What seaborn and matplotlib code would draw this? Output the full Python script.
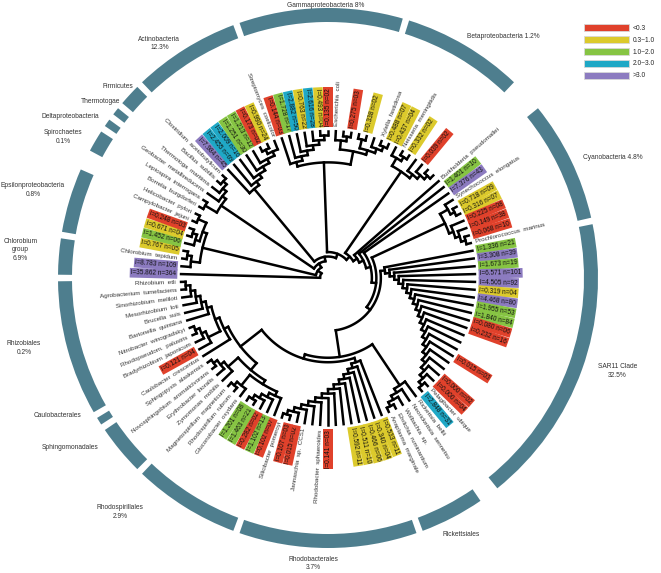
import numpy as np
import pandas as pd
import matplotlib
matplotlib.use("Agg")
import matplotlib.pyplot as plt
import seaborn as sns
from matplotlib.patches import Wedge, Patch

# legend bins for the l value of each environmental leaf
bin_edges = [0.3, 1.0, 2.0, 3.0]
bin_labels = ["<0.3", "0.3~1.0", "1.0~2.0", "2.0~3.0", ">3.0"]
bin_colors = ["#e0412b", "#dcca2c", "#86c443", "#1fa8c6", "#8c7bc0"]

# tree topology (custom newick, "_" = unlabelled leaf)
chlor_eps = ("((l=8.783 n=109,(Chlorobium tepidum,l=0.767 n=05)),"
             "((l=1.452 n=06,(l=0.671 n=04,l=0.248 n=03)),(Campylobacter jejuni,Helicobacter pylori)))")
other = ("((Borrelia burgdorferi,Leptospira interrogans),"
         "(Geobacter metallireducens,(Thermotoga maritima,(Bacillus subtilis,Clostridium acetobutylicum))))")
actino = ("(l=7.984 n=45,(l=2.455 n=69,(l=2.009 n=16,(l=1.251 n=30,(l=1.213 n=12,"
          "((l=0.173 n=02,l=0.990 n=24),Streptomyces coelicolor))))))")
gamma = ("((l=0.144 n=03,(l=1.728 n=17,(l=2.882 n=50,(l=0.763 n=22,(l=2.616 n=28,(l=0.493 n=04,l=0.135 n=02)))))),"
         "((Escherichia coli,(_,l=0.275 n=03)),((_,l=0.338 n=02),(_,(Xylella fastidiosa,l=0.488 n=07)))))")
beta = "((l=0.437 n=04,(Neisseria meningitidis,l=0.332 n=02)),(_,(l=0.039 n=02,(_,_))))"
cyano = ("((Synechococcus elongatus,(l=0.718 n=09,l=0.316 n=07)),"
         "(l=0.225 n=08,(l=0.149 n=38,(l=0.068 n=10,Prochlorococcus marinus))))")
sar11 = ("(l=1.336 n=21,(l=3.308 n=39,(l=1.673 n=19,(l=6.571 n=101,(l=4.505 n=92,(l=0.319 n=04,"
         "(l=4.468 n=80,(l=1.955 n=53,(l=1.840 n=84,(l=0.080 n=06,(l=0.232 n=16,(_,(_,(_,(l=0.015 n=03,"
         "(_,(_,(l=0.000 n=02,(l=0.000 n=04,(Pelagibacter ubique,l=2.848 n=31))))))))))))))))))))")
rick = "(Rickettsia bellii,(Neorickettsia sennetsu,(Wolbachia sp.,(Ehrlichia ruminantium,Anaplasma marginale))))"
rhodob = ("(l=0.533 n=11,(l=0.340 n=04,(l=0.466 n=06,(l=0.511 n=10,(l=0.592 n=11,(_,(_,(l=0.141 n=03,"
          "(Rhodobacter sphaeroides,(_,(Jannaschia sp. CCS1,(l=0.015 n=02,(l=0.107 n=03,Silicibacter pomeroyi)))))))))))))")
rhodosp = ("((l=0.102 n=07,(l=1.102 n=13,(l=0.282 n=02,(l=1.463 n=21,l=1.201 n=08)))),"
           "(Gluconobacter oxydans,(Rhodospirillum rubrum,Magnetospirillum magneticum)))")
sphingo = "(Zymomonas mobilis,(Erythrobacter litoralis,(Novosphingobium aromaticivorans,Sphingopyxis alaskensis)))"
rhizo = ("((l=0.121 n=04,(Bradyrhizobium japonicum,(Rhodopseudom. palustris,Nitrobacter winogradskyi))),"
         "(Bartonella quintana,(Brucella suis,(Mesorhizobium loti,(Sinorhizobium meliloti,"
         "(Agrobacterium tumefaciens,Rhizobium etli))))))")
alpha = f"({sar11},({rick},({rhodob},(({rhodosp},{sphingo}),(Caulobacter crescentus,{rhizo})))))"
newick = (f"(l=35.862 n=364,({chlor_eps},({other},({actino},({gamma},({beta},"
          f"(Burkholderia pseudomallei,(l=1.401 n=10,(l=7.376 n=43,({cyano},{alpha}))))))))))")

# outer ring groups: leaf index ranges
group_names = ["Chlorobium\ngroup\n6.9%", "Epsilonproteobacteria\n0.8%", "Spirochaetes\n0.1%",
               "Deltaproteobacteria", "Thermotogae", "Firmicutes", "Actinobacteria\n12.3%",
               "Gammaproteobacteria 8%", "Betaproteobacteria 1.2%", "Cyanobacteria 4.8%",
               "SAR11 Clade\n32.5%", "Rickettsiales", "Rhodobacterales\n3.7%", "Rhodospirillales\n2.9%",
               "Sphingomonadales", "Caulobacterales", "Rhizobiales\n0.2%"]
group_first = [0, 3, 9, 11, 12, 13, 15, 23, 35, 46, 55, 77, 82, 95, 103, 107, 108]
group_last = [2, 7, 10, 11, 12, 14, 22, 34, 43, 54, 75, 81, 94, 102, 106, 107, 117]


def parse(s):
    pos = 0

    def node():
        nonlocal pos
        if s[pos] == "(":
            pos += 1
            kids = [node()]
            while s[pos] == ",":
                pos += 1
                kids.append(node())
            pos += 1
            return kids
        j = pos
        while s[j] not in ",()":
            j += 1
        name = s[pos:j].strip()
        pos = j
        return name
    return node()


tree = parse(newick)

leaves = []


def collect(n):
    if isinstance(n, str):
        leaves.append(n)
    else:
        for c in n:
            collect(c)


collect(tree)
N = len(leaves)
leaf_ang = 180 - (np.arange(N) + 0.5) * 360 / N

leaf_r = 147
root_r = 8


def height(n):
    return 0 if isinstance(n, str) else 1 + max(height(c) for c in n)


H = height(tree)
step = (leaf_r - root_r) / H

# layout + segments
rows = []
seg_id = [0]
counter = [0]


def add_line(xs, ys):
    for x, y in zip(xs, ys):
        rows.append((x, y, seg_id[0]))
    seg_id[0] += 1


def polar(r, a):
    return r * np.cos(np.radians(a)), r * np.sin(np.radians(a))


def layout(n):
    if isinstance(n, str):
        i = counter[0]
        counter[0] += 1
        return leaf_ang[i], leaf_r
    info = [layout(c) for c in n]
    r = leaf_r - step * height(n)
    a0, a1 = info[0][0], info[-1][0]
    aa = np.linspace(a0, a1, max(2, int(abs(a1 - a0)) + 2))
    add_line(*polar(r, aa))
    for a, rc in info:
        add_line(*polar(np.array([r, rc]), np.array([a, a])))
    return (a0 + a1) / 2, r


layout(tree)
df = pd.DataFrame(rows, columns=["x", "y", "seg"])

sns.set_theme(style="white")
plt.rcParams["font.family"] = ["Liberation Sans", "DejaVu Sans"]

fig = plt.figure(figsize=(6.61, 5.73), dpi=100)
ax = fig.add_axes([0, 0, 1, 1])

sns.lineplot(data=df, x="x", y="y", units="seg", estimator=None, sort=False,
             color="black", linewidth=1.8, legend=False, ax=ax,
             solid_capstyle="projecting")

# leaf labels
for name, a in zip(leaves, leaf_ang):
    if name == "_":
        continue
    x, y = polar(leaf_r + 5, a)
    if -90 < a <= 90:
        rot, ha = a, "left"
    else:
        rot, ha = (a - 180 if a > 90 else a + 180), "right"
    if name.startswith("l="):
        val = float(name.split()[0][2:])
        col = bin_colors[int(np.searchsorted(bin_edges, val))]
        ax.text(x, y, name, rotation=rot, rotation_mode="anchor", ha=ha, va="center",
                fontsize=4.7, color="#111111",
                bbox=dict(boxstyle="square,pad=0.2", fc=col, ec="none"))
    else:
        ax.text(x, y, name.replace(" ", "  "), rotation=rot, rotation_mode="anchor",
                ha=ha, va="center", fontsize=4.5, color="#333333")

# outer ring
ring_r, ring_w, half, gap = 270, 14, 180 / N, 0.7
label_pos = [(174.8, 309), (163.4, 308), (152, 300), (148, 304), (142.3, 288), (137.7, 284),
             (125.7, 289), (90.4, 273), (54, 298), (23, 309), (-17.8, 304), (-62.6, 289),
             (-93, 286), (-131.6, 313), (-146.7, 308), (-153.1, 303), (-167, 312)]
for name, i0, i1, (la, lr) in zip(group_names, group_first, group_last, label_pos):
    t2 = leaf_ang[i0] + half - gap
    t1 = leaf_ang[i1] - half + gap
    ax.add_patch(Wedge((0, 0), ring_r, t1, t2, width=ring_w, fc="#4e7e8e", ec="none"))
    lx, ly = polar(lr, la)
    ax.text(lx, ly, name, ha="center", va="center", multialignment="center",
            fontsize=4.8, color="#333333", linespacing=1.3)

handles = [Patch(fc=c, ec="#d8d8d8", lw=0.6) for c in bin_colors]
ax.legend(handles, bin_labels, loc="upper left", bbox_to_anchor=(584 / 661, 1 - 24 / 573),
          bbox_transform=fig.transFigure, frameon=False, fontsize=4.8,
          handlelength=6.8, handleheight=1.25, labelspacing=0.62, handletextpad=0.5,
          borderpad=0, borderaxespad=0)

ax.set_xlim(-328, 333)
ax.set_ylim(-295, 278)
ax.set_aspect("equal")
ax.axis("off")

fig.savefig("out.png", dpi=100)
